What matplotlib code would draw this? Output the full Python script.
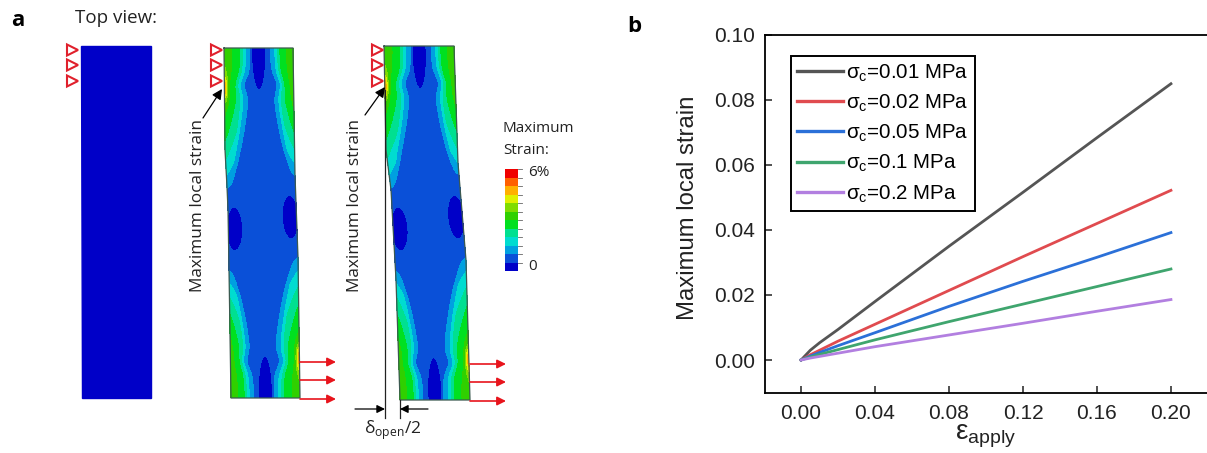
"""Panel a: strain maps of the strip, panel b: maximum local strain against applied strain."""
import numpy as np
import matplotlib
matplotlib.use("Agg")
import matplotlib.pyplot as plt
from matplotlib.colors import ListedColormap, BoundaryNorm

# panel b values
eps_apply = [0.0, 0.005, 0.01, 0.02, 0.04, 0.08, 0.12, 0.16, 0.20]
strain_001 = [0.0, 0.0030, 0.0053, 0.0094, 0.0180, 0.0350, 0.0516, 0.0684, 0.0850]
strain_002 = [0.0, 0.0016, 0.0030, 0.0058, 0.0110, 0.0214, 0.0318, 0.0420, 0.0522]
strain_005 = [0.0, 0.0012, 0.0023, 0.0044, 0.0084, 0.0165, 0.0242, 0.0316, 0.0392]
strain_01 = [0.0, 0.0009, 0.0017, 0.0032, 0.0062, 0.0118, 0.0172, 0.0226, 0.0280]
strain_02 = [0.0, 0.0006, 0.0011, 0.0021, 0.0041, 0.0077, 0.0113, 0.0150, 0.0186]
series_labels = ["0.01 MPa", "0.02 MPa", "0.05 MPa", "0.1 MPa", "0.2 MPa"]
series_colors = ["#555555", "#e04b4f", "#2b70d8", "#3fa56e", "#b27fe0"]
x_ticks = [0.00, 0.04, 0.08, 0.12, 0.16, 0.20]
y_ticks = [0.00, 0.02, 0.04, 0.06, 0.08, 0.10]

# panel a colour scale, bottom to top
band_colors = ["#0000c8", "#0a50d8", "#00a0e0", "#00dcd0", "#00e090", "#00e020",
               "#30d000", "#80dc00", "#e0f000", "#ffb000", "#ff6000", "#f00000"]
# strip outlines, pixels: (y, x) down each edge
mid_left = [(48, 224), (150, 225), (187, 227), (210, 228), (270, 229), (398, 231)]
mid_right = [(48, 293), (175, 295), (257, 298), (398, 300)]
right_left = [(46, 384), (150, 386), (190, 391), (280, 396), (400, 400)]
right_right = [(46, 454), (163, 458), (260, 466), (400, 470)]
# low strain lobes in strip coordinates: (u, v, half width, half height)
lobes = [(0.50, 0.02, 0.10, 0.10), (0.50, 0.98, 0.10, 0.10),
         (0.09, 0.517, 0.12, 0.062), (0.91, 0.483, 0.12, 0.062)]
# strain level across an edge band, from the edge (0) to its inner limit (1)
band_pos = [0.0, 0.58, 0.68, 0.80, 1.0, 1.02]
band_level = [5.5, 3.5, 2.5, 1.5, 0.5, 0.0]

plt.rcParams["font.family"] = ["Liberation Sans", "DejaVu Sans"]
W, H = 1207, 453
fig = plt.figure(figsize=(W / 100, H / 100), dpi=100)
cv = fig.add_axes([0, 0, 1, 1])
cv.set_xlim(0, W)
cv.set_ylim(H, 0)
cv.axis("off")
cmap = ListedColormap(band_colors)
norm = BoundaryNorm(np.arange(13), 12)
SANS = ["Open Sans", "DejaVu Sans"]


def edge_band(u, v, width, reach):
    # raised strain along one side of the strip, fading out at v = reach,
    # with a notch near the grip
    fade = np.clip(1 - (v / reach) ** 1.6, 0, 1)
    w = width * fade ** 0.6 + 1e-3
    w = w * (1 - 0.2 * np.exp(-((v - 0.105) / 0.03) ** 2))
    amp = np.clip(1 - (v / reach) ** 2.2, 0, 1)
    return amp * np.interp(u / w, band_pos, band_level)


def strain_field(u, v):
    f = 1.5 + edge_band(u, v, 0.39, 0.42) + edge_band(1 - u, v, 0.33, 0.38)
    f = f + edge_band(1 - u, 1 - v, 0.39, 0.42) + edge_band(u, 1 - v, 0.33, 0.38)
    for cu, cv_, hu, hv in lobes:
        f = f - 1.5 * np.exp(-1.1 * (((u - cu) / hu) ** 2 + ((v - cv_) / hv) ** 2))
    f = f + 3.0 * np.exp(-(u / 0.045) ** 2 - ((v - 0.115) / 0.035) ** 2)
    f = f + 3.0 * np.exp(-((1 - u) / 0.045) ** 2 - ((0.885 - v) / 0.035) ** 2)
    return np.clip(f, 0.01, 11.9)


def draw_strip(left, right):
    ly, lx = zip(*left)
    ry, rx = zip(*right)
    u, v = np.meshgrid(np.linspace(0, 1, 240), np.linspace(0, 1, 500))
    y = ly[0] + (ly[-1] - ly[0]) * v
    xl = np.interp(y, ly, lx)
    xr = np.interp(y, ry, rx)
    cv.contourf(xl + (xr - xl) * u, y, strain_field(u, v), levels=np.arange(13),
                cmap=cmap, norm=norm, zorder=1)
    cv.plot(list(lx) + list(rx)[::-1] + [lx[0]], list(ly) + list(ry)[::-1] + [ly[0]],
            color="#3c5a50", lw=0.9, zorder=2)


# unloaded strip
cv.fill([81, 151, 151, 82], [46, 46, 398, 398], color="#0000c8", zorder=1)
draw_strip(mid_left, mid_right)
draw_strip(right_left, right_right)

# fixed supports
for x0 in (67, 211, 372):
    for y0 in (50, 65, 81):
        cv.fill([x0, x0 + 11, x0], [y0 - 5.5, y0, y0 + 5.5], fc="white", ec="#e0202c",
                lw=1.5, zorder=3)

# pull arrows
for x0, ys in ((300, (362, 380, 399)), (470, (364, 382, 401))):
    for y0 in ys:
        cv.annotate("", xy=(x0 + 36, y0), xytext=(x0, y0), zorder=3,
                    arrowprops=dict(arrowstyle="-|>", color="#e8141c", lw=1.2,
                                    mutation_scale=13, shrinkA=0, shrinkB=0))

# maximum strain callouts
for tx, x0, y0, x1, y1 in ((198, 203, 118, 222, 89), (355, 365, 115, 385, 87)):
    cv.text(tx, 206, "Maximum local strain", rotation=90, ha="center", va="center",
            fontsize=12.4, family=SANS, color="#222222")
    cv.annotate("", xy=(x1, y1), xytext=(x0, y0),
                arrowprops=dict(arrowstyle="-|>", color="black", lw=0.9,
                                mutation_scale=15, shrinkA=0, shrinkB=0))

# opening displacement
cv.plot([385, 385], [90, 418], color="#222222", lw=0.9, zorder=3)
cv.plot([400, 400], [400, 418], color="#222222", lw=0.9, zorder=3)
cv.annotate("", xy=(385, 409), xytext=(355, 409),
            arrowprops=dict(arrowstyle="-|>", color="black", lw=0.9, mutation_scale=12,
                            shrinkA=0, shrinkB=0))
cv.annotate("", xy=(400, 409), xytext=(428, 409),
            arrowprops=dict(arrowstyle="-|>", color="black", lw=0.9, mutation_scale=12,
                            shrinkA=0, shrinkB=0))
cv.text(393, 430, "δ$_{\\mathregular{open}}$/2", ha="center", va="center", fontsize=12.5,
        family=SANS, color="#222222")

# colour key
key_top, key_bottom = 169, 271
edges = np.linspace(key_bottom, key_top, 13)
for i, c in enumerate(band_colors):
    cv.fill([505, 518, 518, 505], [edges[i], edges[i], edges[i + 1], edges[i + 1]], color=c,
            lw=0, zorder=2)
    cv.plot([518, 522], [edges[i + 1]] * 2, color="#666666", lw=0.6)
cv.text(503, 129, "Maximum", va="center", fontsize=11, family=SANS, color="#222222")
cv.text(503, 150, "Strain:", va="center", fontsize=11, family=SANS, color="#222222")
cv.text(528, 172, "6%", va="center", fontsize=11, family=SANS, color="#222222")
cv.text(528, 267, "0", va="center", fontsize=11, family=SANS, color="#222222")

cv.text(11, 20, "a", va="center", fontsize=16, fontweight="bold", family=SANS)
cv.text(75, 18, "Top view:", va="center", fontsize=13.5, family=SANS, color="#222222")
cv.text(627, 26, "b", va="center", fontsize=16, fontweight="bold", family=SANS)

# panel b
ax = fig.add_axes([765 / W, 1 - 392.5 / H, (W - 765) / W, (392.5 - 35) / H], facecolor="none")
for ys, lab, c in zip([strain_001, strain_002, strain_005, strain_01, strain_02],
                      series_labels, series_colors):
    ax.plot(eps_apply, ys, color=c, lw=2.0, label="σ$_{\\mathregular{c}}$=" + lab)
ax.set_xlim(-0.0195, 0.2195)
ax.set_ylim(-0.01, 0.10)
ax.set_xticks(x_ticks)
ax.set_yticks(y_ticks)
ax.set_xticklabels([f"{t:.2f}" for t in x_ticks])
ax.set_yticklabels([f"{t:.2f}" for t in y_ticks])
ax.tick_params(direction="in", length=5, width=1.1, labelsize=15, pad=7, colors="#222222")
ax.tick_params(axis="x", pad=8)
for s in ax.spines.values():
    s.set_linewidth(1.3)
ax.spines["right"].set_visible(False)
ax.set_ylabel("Maximum local strain", fontsize=17.2, labelpad=11, color="#222222", y=0.5175)
ax.set_xlabel("ε$_{\\mathregular{apply}}$", fontsize=20, labelpad=0, color="#222222")
leg = ax.legend(loc="upper left", bbox_to_anchor=(26 / 442, (392.5 - 56) / 357.5), fontsize=14.8,
                frameon=True, fancybox=False, framealpha=1, edgecolor="black",
                handlelength=2.25, handletextpad=0.15, labelspacing=0.42, borderpad=0.3,
                borderaxespad=0)
leg.get_frame().set_linewidth(1.4)
for line in leg.get_lines():
    line.set_linewidth(2.4)

fig.savefig("out.png", dpi=100)
